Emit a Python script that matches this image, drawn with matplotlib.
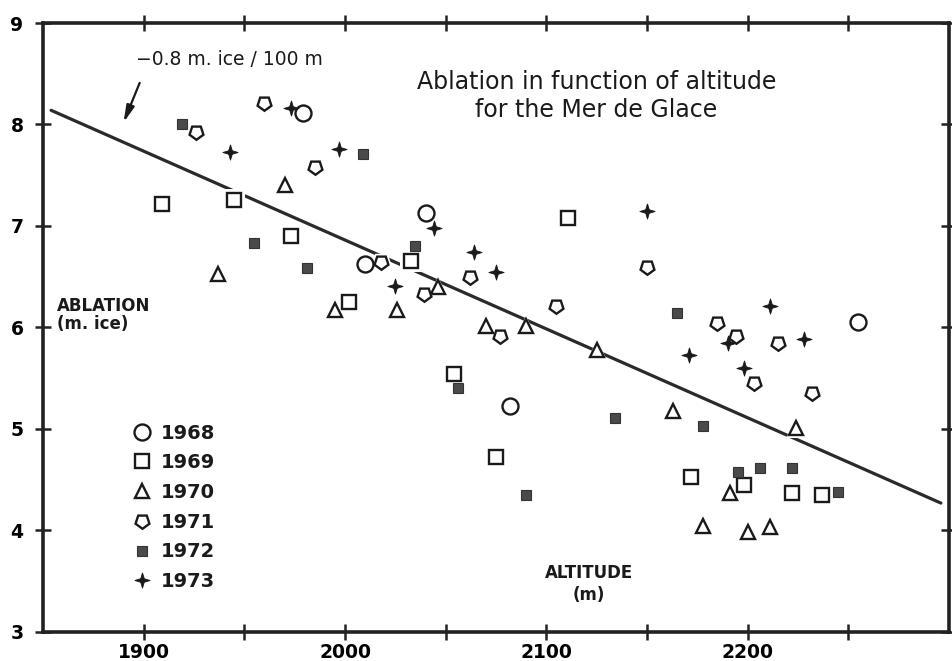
import numpy as np
import matplotlib
matplotlib.use("Agg")
import matplotlib.pyplot as plt
from matplotlib.lines import Line2D

# ---------------- data (altitude m, ablation m ice) ----------------
x1968 = [1979, 2040, 2010, 2082, 2255]
y1968 = [8.11, 7.13, 6.63, 5.23, 6.05]

x1969 = [1909, 1945, 1973, 2002, 2033, 2111, 2054, 2075, 2172, 2198, 2222, 2237]
y1969 = [7.22, 7.26, 6.90, 6.25, 6.66, 7.08, 5.54, 4.72, 4.53, 4.45, 4.37, 4.35]

x1970 = [1970, 1937, 1995, 2026, 2046, 2070, 2090, 2125, 2163, 2224, 2191, 2178, 2200, 2211]
y1970 = [7.40, 6.53, 6.17, 6.17, 6.40, 6.01, 6.01, 5.78, 5.18, 5.01, 4.37, 4.04, 3.99, 4.03]

x1971 = [1960, 1926, 1985, 2018, 2039, 2062, 2077, 2105, 2150, 2185, 2194, 2215, 2203, 2232]
y1971 = [8.21, 7.93, 7.58, 6.65, 6.33, 6.50, 5.92, 6.21, 6.60, 6.04, 5.92, 5.85, 5.45, 5.35]

x1972 = [1919, 2009, 1955, 1981, 2035, 2056, 2134, 2178, 2165, 2090, 2195, 2206, 2222, 2245]
y1972 = [8.00, 7.71, 6.83, 6.59, 6.80, 5.40, 5.11, 5.03, 6.14, 4.35, 4.58, 4.62, 4.62, 4.38]

x1973 = [1973, 1943, 1997, 2044, 2064, 2075, 2025, 2150, 2171, 2190, 2198, 2228, 2211]
y1973 = [8.16, 7.73, 7.76, 6.98, 6.74, 6.55, 6.41, 7.15, 5.73, 5.85, 5.60, 5.89, 6.21]

years = ["1968", "1969", "1970", "1971", "1972", "1973"]

# regression line end points
fit_x = [1854, 2296]
fit_y = [8.14, 4.27]

xticks = [1900, 1950, 2000, 2050, 2100, 2150, 2200, 2250]
xticklabels = ["1900", "", "2000", "", "2100", "", "2200", ""]
yticks = [3, 4, 5, 6, 7, 8, 9]

# ---------------- style ----------------
INK = "#1a1a1a"
GREY = "#4a4a4a"
plt.rcParams['font.family'] = ['DejaVu Sans']

# four-point star marker
ang = np.deg2rad(np.arange(0, 360, 45) + 90)
rad = np.where(np.arange(8) % 2 == 0, 1.0, 0.33)
star = list(zip(rad * np.cos(ang), rad * np.sin(ang)))
star.append(star[0])
shield = (5, 0, 180)

styles = {
    "1968": dict(marker="o", ms=11.5, mfc="white", mec=INK, mew=1.7),
    "1969": dict(marker="s", ms=10.5, mfc="white", mec=INK, mew=1.7),
    "1970": dict(marker="^", ms=9.5, mfc="white", mec=INK, mew=1.7),
    "1971": dict(marker=shield, ms=10.5, mfc="white", mec=INK, mew=1.7),
    "1972": dict(marker="s", ms=7, mfc=GREY, mec="#333333", mew=0.8),
    "1973": dict(marker=star, ms=11, mfc=INK, mec=INK, mew=0.6),
}
data = {
    "1968": (x1968, y1968), "1969": (x1969, y1969), "1970": (x1970, y1970),
    "1971": (x1971, y1971), "1972": (x1972, y1972), "1973": (x1973, y1973),
}

fig = plt.figure(figsize=(9.52, 6.61), dpi=100)
ax = fig.add_axes([0.0452, 0.0439, 0.9516, 0.9213])
ax.set_xlim(1850, 2300)
ax.set_ylim(3, 9)

# regression line
ax.plot(fit_x, fit_y, color="#2a2a2a", lw=2.3, solid_capstyle="round", zorder=2)

# white halos to break the line behind the markers
for yr in years:
    xs, ys = data[yr]
    st = styles[yr]
    ax.plot(xs, ys, ls="none", marker=st["marker"], ms=st["ms"] + 5,
            mfc="white", mec="white", mew=0, zorder=3)
for yr in years:
    xs, ys = data[yr]
    ax.plot(xs, ys, ls="none", zorder=4, **styles[yr])

# axes / spines
for sp in ax.spines.values():
    sp.set_linewidth(2.6)
    sp.set_color("#222222")
ax.set_xticks(xticks)
ax.set_xticklabels(xticklabels)
ax.set_yticks(yticks)
ax.set_yticklabels([str(v) for v in yticks])
ax.tick_params(axis="both", direction="inout", length=12, width=1.8, color="#222222",
               labelsize=13.5, top=True, right=True)
ax.tick_params(axis="x", pad=2)
ax.tick_params(axis="y", pad=8)
for lab in ax.get_xticklabels() + ax.get_yticklabels():
    lab.set_fontweight("heavy")

# texts
ax.text(0.611, 0.88, "Ablation in function of altitude\nfor the Mer de Glace",
        transform=ax.transAxes, ha="center", va="center", fontsize=17,
        linespacing=1.2, color=INK)
ax.text(1896, 8.64, "\u22120.8 m. ice / 100 m", fontsize=13.5, color=INK,
        ha="left", va="center")
ax.annotate("", xy=(1890, 8.02), xytext=(1898, 8.41),
            arrowprops=dict(arrowstyle="-|>,head_length=1.0,head_width=0.24",
                            color=INK, lw=1.6, shrinkA=0, shrinkB=0))
ax.text(1857, 6.12, "ABLATION\n(m. ice)", fontsize=12, fontweight="bold",
        color=INK, ha="left", va="center", linespacing=1.0)
ax.text(2121, 3.47, "ALTITUDE\n(m)", fontsize=12, fontweight="bold",
        color=INK, ha="center", va="center", linespacing=1.3)

# legend
handles = [Line2D([], [], ls="none", **styles[yr]) for yr in years]
leg = ax.legend(handles, years, loc="upper left", bbox_to_anchor=(0.09, 0.355),
                frameon=False, handletextpad=0.45, labelspacing=0.55,
                handlelength=1.0, borderaxespad=0,
                prop=dict(size=14, weight="heavy"))
for t in leg.get_texts():
    t.set_color(INK)

fig.savefig("out.png", dpi=100)
